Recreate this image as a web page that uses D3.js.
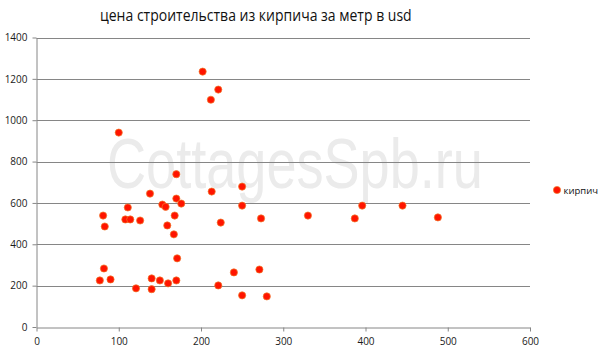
<!DOCTYPE html>
<html><head><meta charset="utf-8">
<script src="https://cdn.jsdelivr.net/npm/d3@7"></script>
<style>body{margin:0;background:#fff}svg{display:block}</style>
</head><body><svg id="c" width="604" height="351"></svg>
<script>
const title = "цена строительства из кирпича за метр в usd";
const seriesName = "кирпич";
const xTicks = [0,100,200,300,400,500,600];
const yTicks = [0,200,400,600,800,1000,1200,1400];
const xValues = [202,221,212,100,170,138,213,170,111,153,157,176,81,168,108,114,126,83,159,224,167,171,82,77,90,140,150,170,160,121,140,221,250,250,273,330,387,396,240,271,250,280,445,488];
const yValues = [1235,1148,1099,940,739,645,655,621,578,592,581,597,539,539,520,520,515,486,491,505,448,332,283,225,230,235,225,225,211,187,183,201,679,587,525,539,525,587,264,278,153,148,587,530];

const svg = d3.select("#c");
const x = d3.scaleLinear().domain([0,600]).range([36.5,530]);
const y = d3.scaleLinear().domain([0,1400]).range([327,37.5]);
const grey = "#868686";
const font = "'Open Sans', 'DejaVu Sans', sans-serif";

// fit a text horizontally into a given width using a transform
function fitText(sel, x0, y0, w) {
  const nat = sel.node().getComputedTextLength();
  const s = w / nat;
  sel.attr("x",0).attr("y",0).attr("transform",`translate(${x0},${y0}) scale(${s},1)`);
}

// watermark
const wm = svg.append("text").attr("font-family","Liberation Sans, Arial, sans-serif")
  .attr("font-size",70).attr("fill","#ebebeb").text("CottagesSpb.ru");
fitText(wm,107,188,376);

// gridlines
svg.append("g").selectAll("line").data(yTicks.filter(d=>d>0)).join("line")
  .attr("x1",x(0)).attr("x2",x(600)).attr("y1",d=>Math.round(y(d))+0.5).attr("y2",d=>Math.round(y(d))+0.5)
  .attr("stroke",grey).attr("stroke-width",1);

// y axis
const ya = svg.append("g").attr("transform",`translate(${Math.round(x(0))-0.5},0)`)
  .call(d3.axisLeft(y).tickValues(yTicks).tickFormat(d3.format("d")).tickSize(4).tickPadding(5).tickSizeOuter(0));
// x axis
const xa = svg.append("g").attr("transform",`translate(0,${Math.round(y(0))+0.5})`)
  .call(d3.axisBottom(x).tickValues(xTicks).tickFormat(d3.format("d")).tickSize(4).tickPadding(6).tickSizeOuter(0));
[ya,xa].forEach(a=>{
  a.select(".domain").attr("stroke",grey);
  a.selectAll(".tick line").attr("stroke",grey);
  a.selectAll(".tick text").attr("font-family",font).attr("font-size",10).attr("fill","#1a1a1a");
});
ya.selectAll(".tick text").attr("x",-9);

// points
svg.append("g").selectAll("circle").data(xValues.map((v,i)=>[v,yValues[i]])).join("circle")
  .attr("cx",d=>x(d[0])).attr("cy",d=>y(d[1])).attr("r",3.6)
  .attr("fill","#ff1400").attr("stroke","#f07a2a").attr("stroke-width",0.7);

// title
const t = svg.append("text").attr("font-family",font).attr("font-size",17)
  .attr("fill","#111").text(title);
fitText(t,100,21,312);

// legend
svg.append("circle").attr("cx",557).attr("cy",190).attr("r",3.6).attr("fill","#ff1400").attr("stroke","#f07a2a").attr("stroke-width",0.7);
svg.append("text").attr("x",563.5).attr("y",193.5).attr("font-family",font).attr("font-size",9.5).attr("fill","#111").text(seriesName);
</script></body></html>
